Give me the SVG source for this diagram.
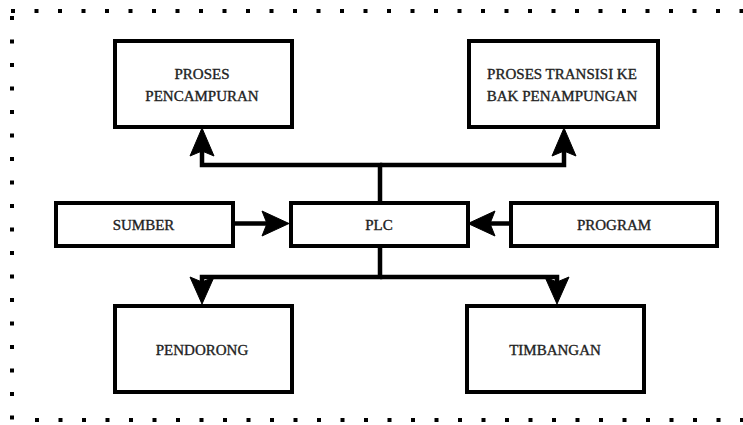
<svg xmlns="http://www.w3.org/2000/svg" width="743" height="425" viewBox="0 0 743 425">
<style>
.box{fill:#fff;stroke:#000;stroke-width:4}
.lbl{font-family:"Liberation Serif","Times New Roman",serif;font-size:15px;fill:#222;text-anchor:middle;stroke:#222;stroke-width:0.35}
.wire{fill:none;stroke:#000;stroke-width:4.5}
.head{fill:#000;stroke:#000;stroke-width:1}
.dot{fill:none;stroke:#000;stroke-width:4;stroke-dasharray:4 19.5}
.dotr{fill:none;stroke:#bbb;stroke-width:4;stroke-dasharray:4 19.5}
</style>
<rect width="743" height="425" fill="#fff"/>
<g id="border">
<line class="dot" x1="11" y1="11" x2="746" y2="11"/>
<line class="dot" x1="12" y1="16" x2="12" y2="421"/>
<line class="dot" x1="35" y1="420" x2="746" y2="420"/>
<line class="dotr" x1="745" y1="16" x2="745" y2="421"/>
</g>
<g id="connectors">
<path class="wire" d="M380 202 V165 H202 V150"/>
<path class="wire" d="M380 165 H564 V150"/>
<path class="head" d="M202 128 L214 156 L202 151 L190 156 Z"/>
<path class="head" d="M564 128 L576 156 L564 151 L552 156 Z"/>
<path class="wire" d="M233 223.5 H267"/>
<path class="head" d="M289 223.5 L262 211 L267 223.5 L262 236 Z"/>
<path class="wire" d="M510 223.5 H474"/>
<path class="head" d="M468 223.5 L495 211 L490 223.5 L495 236 Z"/>
<path class="wire" d="M380 246 V277 H202 V283"/>
<path class="wire" d="M380 277 H557 V283"/>
<path class="head" d="M202 304 L190 277 L202 282 L214 277 Z"/>
<path class="head" d="M557 304 L545 277 L557 282 L569 277 Z"/>
</g>
<g id="pencampuran">
<rect class="box" x="115" y="41" width="177" height="86"/>
<text class="lbl" x="202" y="79">PROSES</text>
<text class="lbl" x="202" y="101">PENCAMPURAN</text>
</g>
<g id="transisi">
<rect class="box" x="469" y="41" width="189" height="86"/>
<text class="lbl" x="562" y="79">PROSES TRANSISI KE</text>
<text class="lbl" x="562" y="101">BAK PENAMPUNGAN</text>
</g>
<g id="sumber">
<rect class="box" x="56" y="203" width="177" height="43"/>
<text class="lbl" x="143.5" y="230">SUMBER</text>
</g>
<g id="plc">
<rect class="box" x="291" y="203" width="177" height="43"/>
<text class="lbl" x="379" y="230">PLC</text>
</g>
<g id="program">
<rect class="box" x="511" y="203" width="206" height="43"/>
<text class="lbl" x="614" y="230">PROGRAM</text>
</g>
<g id="pendorong">
<rect class="box" x="115" y="306" width="177" height="86"/>
<text class="lbl" x="202" y="355">PENDORONG</text>
</g>
<g id="timbangan">
<rect class="box" x="467" y="306" width="177" height="86"/>
<text class="lbl" x="555" y="355">TIMBANGAN</text>
</g>
</svg>
